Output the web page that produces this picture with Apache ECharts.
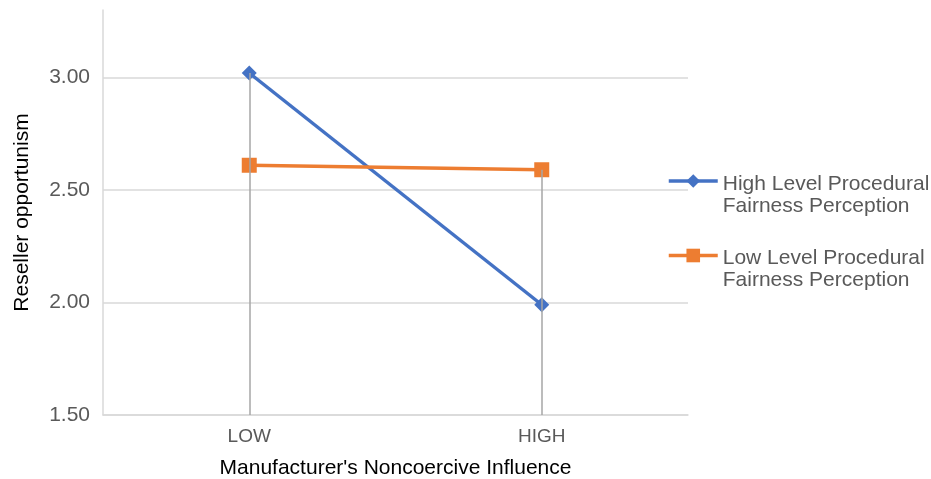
<!DOCTYPE html>
<html>
<head>
<meta charset="utf-8">
<script src="https://cdn.jsdelivr.net/npm/echarts@6/dist/echarts.min.js"></script>
<style>html,body{margin:0;padding:0;background:#fff;}#c{width:931px;height:479px;}</style>
</head>
<body>
<div id="c"></div>
<script>
var categories = ['LOW', 'HIGH'];
var seriesNames = ['High Level Procedural Fairness Perception', 'Low Level Procedural Fairness Perception'];
var highLevel = [3.02, 1.99];
var lowLevel = [2.61, 2.59];
var yMin = 1.5, yMax = 3.3, yStep = 0.5;

var font = 'Liberation Sans, Arial, sans-serif';
var dropData = categories.map(function (c, i) {
  return [{ coord: [c, Math.max(highLevel[i], lowLevel[i])] }, { coord: [c, yMin] }];
});

var chart = echarts.init(document.getElementById('c'), null, { width: 931, height: 479 });
chart.setOption({
  animation: false,
  backgroundColor: '#fff',
  grid: { left: 103, right: 243, top: 10, bottom: 64, containLabel: false, outerBoundsMode: 'none' },
  xAxis: {
    type: 'category',
    data: categories,
    boundaryGap: true,
    axisLine: { show: true, lineStyle: { color: '#d9d9d9', width: 1.5 } },
    axisTick: { show: false },
    axisLabel: { color: '#595959', fontSize: 19, fontFamily: font, margin: 12 },
    name: "Manufacturer's Noncoercive Influence",
    nameLocation: 'middle',
    nameGap: 43,
    nameTextStyle: { color: '#000', fontSize: 21, fontFamily: font }
  },
  yAxis: {
    type: 'value',
    min: yMin, max: yMax, interval: yStep,
    axisLine: { show: true, lineStyle: { color: '#d9d9d9', width: 1.5 } },
    axisTick: { show: false },
    axisLabel: {
      color: '#595959', fontSize: 21, fontFamily: font, margin: 13,
      showMaxLabel: false,
      formatter: function (v) { return v.toFixed(2); }
    },
    splitLine: { show: true, lineStyle: { color: ['#d9d9d9', '#d9d9d9', '#d9d9d9', '#d9d9d9', 'rgba(0,0,0,0)'], width: 1.5 } },
    name: 'Reseller opportunism',
    nameLocation: 'middle',
    nameGap: 70,
    nameTextStyle: { color: '#000', fontSize: 21, fontFamily: font }
  },
  legend: {
    orient: 'vertical',
    left: 667,
    top: 145,
    padding: 0,
    itemWidth: 49,
    itemHeight: 17,
    itemGap: 3,
    data: seriesNames,
    lineStyle: { width: 3.5 },
    formatter: function (n) {
      var parts = n.split(' Fairness');
      return '{s|}\n{t|' + parts[0] + '}\n{t|Fairness' + parts[1] + '}';
    },
    textStyle: {
      color: '#595959', fontSize: 21, fontFamily: font,
      rich: {
        s: { height: 28, lineHeight: 28, fontSize: 1 },
        t: { color: '#595959', fontSize: 21, fontFamily: font, lineHeight: 22 }
      }
    }
  },
  series: [
    {
      type: 'line',
      name: '__drop',
      data: [],
      silent: true,
      z: 1,
      markLine: {
        silent: true,
        symbol: ['none', 'none'],
        label: { show: false },
        lineStyle: { color: '#a6a6a6', type: 'solid', width: 1.5 },
        data: dropData
      }
    },
    {
      type: 'line',
      name: seriesNames[0],
      data: highLevel,
      z: 3,
      color: '#4472C4',
      symbol: 'diamond',
      symbolSize: 15,
      lineStyle: { width: 3.5, color: '#4472C4' },
      itemStyle: { color: '#4472C4' }
    },
    {
      type: 'line',
      name: seriesNames[1],
      data: lowLevel,
      z: 3,
      color: '#ED7D31',
      symbol: 'rect',
      symbolSize: 15,
      lineStyle: { width: 3.5, color: '#ED7D31' },
      itemStyle: { color: '#ED7D31' }
    }
  ]
});
</script>
</body>
</html>
